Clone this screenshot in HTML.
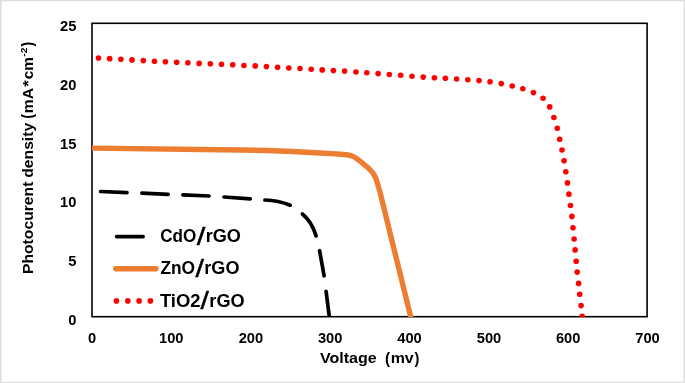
<!DOCTYPE html>
<html><head><meta charset="utf-8"><title>J-V curves</title>
<style>
html,body{margin:0;padding:0;background:#fff;}
body{width:685px;height:383px;overflow:hidden;}
svg{display:block;}
text{font-family:"Liberation Sans",sans-serif;font-weight:bold;fill:#000;}
.tk{font-size:14.7px;}
.ti{font-size:14.4px;}
.lg{font-size:17.8px;}
</style></head><body>
<svg width="685" height="383" viewBox="0 0 685 383">
<defs><clipPath id="pa"><rect x="92" y="23" width="555" height="294"/></clipPath></defs>
<rect x="0" y="0" width="685" height="383" fill="#fff"/>
<!-- outer frame -->
<rect x="0" y="1" width="685" height="1" fill="#f5f5f5"/>
<rect x="0" y="381" width="685" height="1" fill="#f4f4f4"/>
<rect x="1" y="0" width="1" height="383" fill="#eaeaea"/>
<rect x="683" y="0" width="1" height="383" fill="#f1f1f1"/>
<rect x="0" y="0" width="685" height="1" fill="#dedede"/>
<rect x="0" y="382" width="685" height="1" fill="#e0e0e0"/>
<rect x="0" y="0" width="1" height="383" fill="#dedede"/>
<rect x="684" y="0" width="1" height="383" fill="#dedede"/>
<!-- plot frame -->
<rect x="92" y="23.3" width="555.1" height="293.4" fill="none" stroke="#000" stroke-width="1.6"/>
<!-- series -->
<g clip-path="url(#pa)">
<g fill="none" stroke="#000" stroke-width="3.7" stroke-linecap="round" stroke-linejoin="round">
<path d="M100.6 191.5 L127 192.7"/>
<path d="M141.9 193.2 L168.2 194.3"/>
<path d="M182.9 194.9 L209 196"/>
<path d="M224 197 L250.2 198.8"/>
<path d="M264.9 200 C272 200.2 282 201.8 290.2 205.2"/>
<path d="M302.4 214 C306 217 312.5 224 316.1 235.9"/>
<path d="M319.6 250.7 L324.1 275.8"/>
<path d="M326.1 291.4 L329.6 319"/>
</g>
<path d="M90 148.1 L240 150 L266.3 150.5 L292.5 151.5 L320 153 L335.7 153.9 L346.6 154.7 Q350 155 353 156.4 Q356 157.8 362.3 163 L368.6 168.2 Q373.5 172.5 375.6 177.6 Q377 181.5 380.3 193.3 L411.5 320" fill="none" stroke="#ed7d31" stroke-width="5.4" stroke-linecap="round" stroke-linejoin="round"/>
<g fill="#ff0000">
<circle cx="98.46" cy="57.98" r="2.8"/>
<circle cx="109.65" cy="58.67" r="2.8"/>
<circle cx="120.85" cy="59.3" r="2.8"/>
<circle cx="132.0" cy="59.9" r="2.8"/>
<circle cx="143.3" cy="60.6" r="2.8"/>
<circle cx="154.5" cy="61.3" r="2.8"/>
<circle cx="165.4" cy="61.7" r="2.8"/>
<circle cx="176.7" cy="62.2" r="2.8"/>
<circle cx="187.9" cy="62.7" r="2.8"/>
<circle cx="199.1" cy="63.4" r="2.8"/>
<circle cx="210.3" cy="63.8" r="2.8"/>
<circle cx="221.5" cy="64.3" r="2.8"/>
<circle cx="232.7" cy="64.8" r="2.8"/>
<circle cx="243.9" cy="65.5" r="2.8"/>
<circle cx="255.2" cy="65.9" r="2.8"/>
<circle cx="266.4" cy="66.6" r="2.8"/>
<circle cx="277.6" cy="67.3" r="2.8"/>
<circle cx="288.8" cy="68.0" r="2.8"/>
<circle cx="300.0" cy="68.5" r="2.8"/>
<circle cx="311.2" cy="69.2" r="2.8"/>
<circle cx="322.2" cy="69.9" r="2.8"/>
<circle cx="333.4" cy="70.6" r="2.8"/>
<circle cx="344.6" cy="71.1" r="2.8"/>
<circle cx="355.9" cy="72.0" r="2.8"/>
<circle cx="366.8" cy="72.7" r="2.8"/>
<circle cx="378.1" cy="73.6" r="2.8"/>
<circle cx="389.3" cy="74.5" r="2.8"/>
<circle cx="400.7" cy="75.3" r="2.8"/>
<circle cx="412.0" cy="76.2" r="2.8"/>
<circle cx="423.2" cy="77.1" r="2.8"/>
<circle cx="434.4" cy="77.8" r="2.8"/>
<circle cx="445.4" cy="78.3" r="2.8"/>
<circle cx="456.6" cy="79.0" r="2.8"/>
<circle cx="467.8" cy="79.7" r="2.8"/>
<circle cx="479.0" cy="80.6" r="2.8"/>
<circle cx="490.0" cy="81.8" r="2.8"/>
<circle cx="501.3" cy="83.6" r="2.8"/>
<circle cx="512.2" cy="85.95" r="2.8"/>
<circle cx="522.8" cy="88.7" r="2.8"/>
<circle cx="533.4" cy="92.6" r="2.8"/>
<circle cx="543.05" cy="98.2" r="2.8"/>
<circle cx="549.7" cy="106.9" r="2.8"/>
<circle cx="553.9" cy="117.5" r="2.8"/>
<circle cx="557.3" cy="128.3" r="2.8"/>
<circle cx="559.7" cy="139.2" r="2.8"/>
<circle cx="562.0" cy="150.0" r="2.8"/>
<circle cx="564.1" cy="160.8" r="2.8"/>
<circle cx="565.8" cy="171.7" r="2.8"/>
<circle cx="567.5" cy="182.9" r="2.8"/>
<circle cx="568.9" cy="194.15" r="2.8"/>
<circle cx="570.5" cy="205.5" r="2.8"/>
<circle cx="571.9" cy="216.4" r="2.8"/>
<circle cx="573.0" cy="227.7" r="2.8"/>
<circle cx="574.1" cy="239.0" r="2.8"/>
<circle cx="575.1" cy="249.9" r="2.8"/>
<circle cx="576.2" cy="261.2" r="2.8"/>
<circle cx="577.2" cy="272.1" r="2.8"/>
<circle cx="578.6" cy="283.4" r="2.8"/>
<circle cx="579.7" cy="294.3" r="2.8"/>
<circle cx="581.1" cy="305.6" r="2.8"/>
<circle cx="582.2" cy="316.3" r="2.8"/>
</g>
</g>
<!-- y tick labels -->
<g class="tk" text-anchor="end">
<text x="76.4" y="31">25</text>
<text x="76.4" y="89.75">20</text>
<text x="76.4" y="148.5">15</text>
<text x="76.4" y="207.25">10</text>
<text x="76.4" y="266">5</text>
<text x="76.4" y="324.6">0</text>
</g>
<!-- x tick labels -->
<g class="tk" text-anchor="middle">
<text x="92" y="342.5">0</text>
<text x="171.3" y="342.5">100</text>
<text x="250.9" y="342.5">200</text>
<text x="330.2" y="342.5">300</text>
<text x="409.5" y="342.5">400</text>
<text x="489" y="342.5">500</text>
<text x="568.2" y="342.5">600</text>
<text x="647.5" y="342.5">700</text>
</g>
<!-- axis titles -->
<text transform="rotate(-90)"><tspan x="-274.00" y="33.1" font-size="15.3px" textLength="92.37" lengthAdjust="spacingAndGlyphs">Photocurent</tspan><tspan> </tspan><tspan x="-177.75" y="33.1" font-size="15.3px" textLength="54.92" lengthAdjust="spacingAndGlyphs">density</tspan><tspan> </tspan><tspan x="-118.75" y="33.35" font-size="16.6px" textLength="4.81" lengthAdjust="spacingAndGlyphs">(</tspan><tspan x="-113.30" y="33.1" font-size="15.3px" textLength="25.34" lengthAdjust="spacingAndGlyphs">mA</tspan><tspan x="-86.70" y="33.1" font-size="15.3px" textLength="6.51" lengthAdjust="spacingAndGlyphs">*</tspan><tspan x="-79.25" y="33.1" font-size="15.3px" textLength="22.12" lengthAdjust="spacingAndGlyphs">cm</tspan><tspan x="-56.80" y="26.5" font-size="8.8px" textLength="9.22" lengthAdjust="spacingAndGlyphs">-2</tspan><tspan x="-46.40" y="33.35" font-size="16.6px" textLength="4.63" lengthAdjust="spacingAndGlyphs">)</tspan></text>
<text><tspan x="319.95" y="363.35" font-size="15.3px" textLength="56.86" lengthAdjust="spacingAndGlyphs">Voltage</tspan><tspan> </tspan><tspan> </tspan><tspan x="385.05" y="363.5" font-size="16.2px" textLength="5.11" lengthAdjust="spacingAndGlyphs">(</tspan><tspan x="390.7" y="363.35" font-size="15.3px" textLength="23.06" lengthAdjust="spacingAndGlyphs">mv</tspan><tspan x="414.6" y="363.5" font-size="16.2px" textLength="4.82" lengthAdjust="spacingAndGlyphs">)</tspan></text>
<!-- legend -->
<path d="M116.7 236.6 L143.1 236.6" stroke="#000" stroke-width="3.7" stroke-linecap="round" fill="none"/>
<path d="M115.8 268.8 L155.9 268.8" stroke="#ed7d31" stroke-width="5.4" stroke-linecap="round" fill="none"/>
<g fill="#ff0000"><circle cx="116.4" cy="300.9" r="2.8"/><circle cx="127.8" cy="300.9" r="2.8"/><circle cx="139.1" cy="300.9" r="2.8"/><circle cx="150.4" cy="300.9" r="2.8"/></g>
<text><tspan x="160.15" y="242.45" font-size="18.4px" textLength="36.06" lengthAdjust="spacingAndGlyphs">CdO</tspan><tspan x="196.7" y="245.05" font-size="24.6px" font-weight="normal" stroke="#000" stroke-width="0.4" textLength="8.6" lengthAdjust="spacingAndGlyphs">/</tspan><tspan x="205.65" y="242.45" font-size="18.4px" textLength="35.22" lengthAdjust="spacingAndGlyphs">rGO</tspan></text>
<text><tspan x="160.4" y="274.45" font-size="18.4px" textLength="34.59" lengthAdjust="spacingAndGlyphs">ZnO</tspan><tspan x="195.5" y="277.05" font-size="24.6px" font-weight="normal" stroke="#000" stroke-width="0.4" textLength="8.5" lengthAdjust="spacingAndGlyphs">/</tspan><tspan x="204.35" y="274.45" font-size="18.4px" textLength="35.13" lengthAdjust="spacingAndGlyphs">rGO</tspan></text>
<text><tspan x="159.95" y="306.5" font-size="18.4px" textLength="40.58" lengthAdjust="spacingAndGlyphs">TiO2</tspan><tspan x="200.6" y="309.1" font-size="24.6px" font-weight="normal" stroke="#000" stroke-width="0.4" textLength="8.4" lengthAdjust="spacingAndGlyphs">/</tspan><tspan x="209.35" y="306.5" font-size="18.4px" textLength="35.27" lengthAdjust="spacingAndGlyphs">rGO</tspan></text>
</svg>
</body></html>
